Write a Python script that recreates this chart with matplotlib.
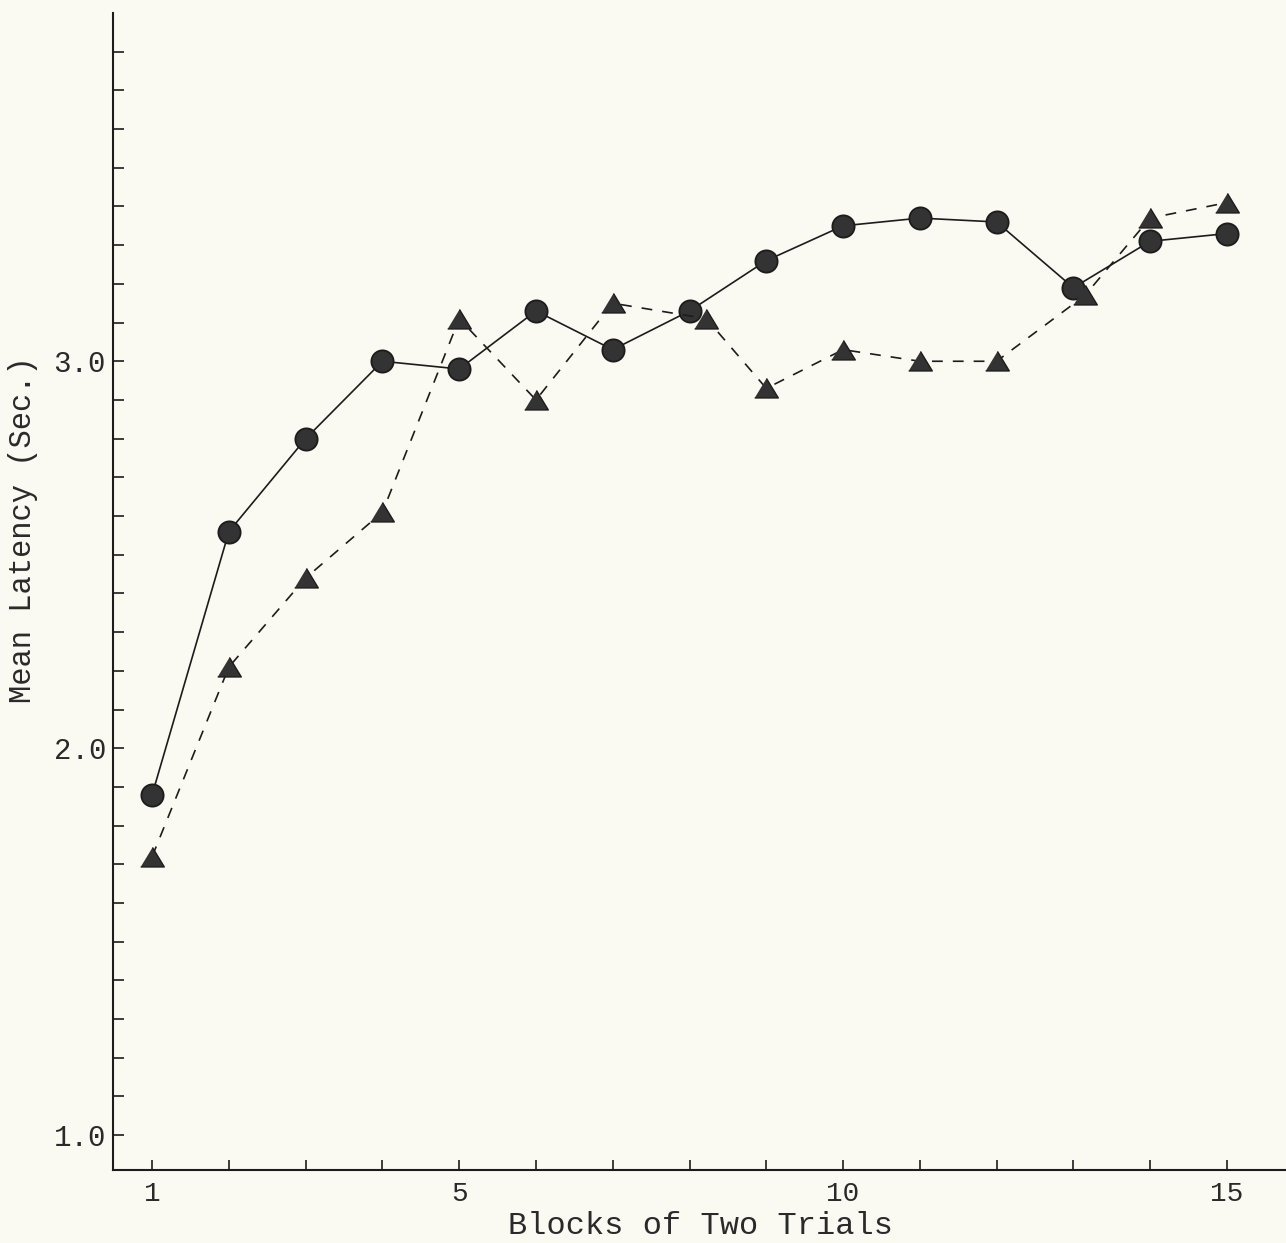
import matplotlib
matplotlib.use('Agg')
import matplotlib.pyplot as plt
from matplotlib.ticker import FixedLocator, NullFormatter

# block numbers (x) and mean latency in seconds (y)
blocks = [1, 2, 3, 4, 5, 6, 7, 8, 9, 10, 11, 12, 13, 14, 15]
circle_latency = [1.88, 2.56, 2.80, 3.00, 2.98, 3.13, 3.03, 3.13, 3.26, 3.35, 3.37, 3.36, 3.19, 3.31, 3.33]
# triangles at blocks 8 and 13 were typed a little to the right of the tick
triangle_blocks = [1, 2, 3, 4, 5, 6, 7, 8.22, 9, 10, 11, 12, 13.15, 14, 15]
triangle_latency = [1.72, 2.21, 2.44, 2.61, 3.11, 2.90, 3.15, 3.11, 2.93, 3.03, 3.00, 3.00, 3.17, 3.37, 3.41]

x_ticks = list(range(1, 16))
x_labels = ['1', '', '', '', '5', '', '', '', '', '10', '', '', '', '', '15']
y_major = [1.0, 2.0, 3.0]
y_labels = ['1.0', '2.0', '3.0']
y_minor = [round(1.0 + 0.1 * i, 1) for i in range(29)]

paper = '#faf9f2'
ink = '#1c1c1c'
font = ['Liberation Mono', 'DejaVu Sans Mono']

fig = plt.figure(figsize=(12.86, 12.43), dpi=100, facecolor=paper)
ax = fig.add_axes([113 / 1286, 73 / 1243, 1173 / 1286, 1157 / 1243])
ax.set_facecolor(paper)

tri = [(-1, -0.8), (1, -0.8), (0, 0.85)]
ax.plot(blocks, circle_latency, color=ink, lw=1.2, ls='-',
        marker='o', ms=16, mfc='#333333', mec=ink, mew=1.3, zorder=3)
ax.plot(triangle_blocks, triangle_latency, color=ink, lw=1.2, ls=(0, (6.5, 6)),
        marker=tri, ms=17, mfc='#333333', mec=ink, mew=1.0, zorder=3)

ax.set_xlim(0.49, 15.77)
ax.set_ylim(0.91, 3.90)

for side in ['top', 'right']:
    ax.spines[side].set_visible(False)
for side in ['left', 'bottom']:
    ax.spines[side].set_linewidth(1.5)
    ax.spines[side].set_color(ink)

ax.set_xticks(x_ticks)
ax.set_xticklabels(x_labels, fontfamily=font, fontsize=20, color='#2a2a2a')
ax.yaxis.set_major_locator(FixedLocator(y_major))
ax.set_yticklabels(y_labels, fontfamily=font, fontsize=21, color='#2a2a2a')
ax.yaxis.set_minor_locator(FixedLocator([v for v in y_minor if v not in y_major]))
ax.yaxis.set_minor_formatter(NullFormatter())

ax.tick_params(axis='x', direction='in', length=7, width=1.2, color=ink, pad=8)
ax.tick_params(axis='y', which='both', direction='in', length=8, width=1.2, color=ink, pad=5)

fig.text(23 / 1286, 1 - 530 / 1243, 'Mean Latency (Sec.)', rotation=90,
         ha='center', va='center', fontfamily=font, fontsize=22, color='#2a2a2a')
fig.text(700 / 1286, 1 - 1226 / 1243, 'Blocks of Two Trials',
         ha='center', va='center', fontfamily=font, fontsize=23, color='#2a2a2a')

fig.savefig('out.png', dpi=100, facecolor=paper)
